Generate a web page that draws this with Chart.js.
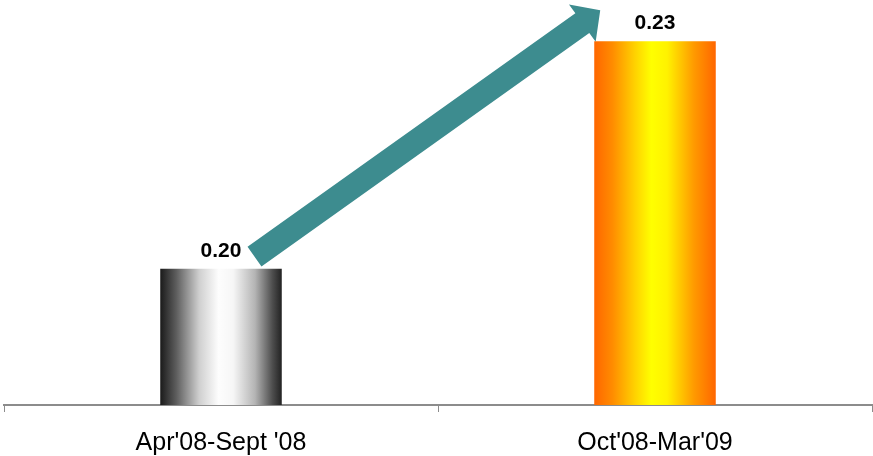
<!DOCTYPE html>
<html>
<head>
<meta charset="utf-8">
<script src="https://cdn.jsdelivr.net/npm/chart.js@4.4.1/dist/chart.umd.min.js"></script>
<style>
  html, body { margin: 0; padding: 0; background: #ffffff; }
  #wrap { width: 873px; height: 456px; position: relative; }
</style>
</head>
<body>
<div id="wrap"><canvas id="c"></canvas></div>
<script>
// Half-year periods and their values
const periods = ["Apr'08-Sept '08", "Oct'08-Mar'09"];
const values = [0.20, 0.23];

// Horizontal gradient stops for each bar (metallic grey, then orange/yellow)
const barStops = [
  [[0, '#1a1a1a'], [0.13, '#5c5c5c'], [0.32, '#cfcfcf'], [0.48, '#fdfdfd'], [0.6, '#f6f6f6'], [0.78, '#b4b4b4'], [0.92, '#505050'], [1, '#222222']],
  [[0, '#ff6600'], [0.15, '#ff8c00'], [0.33, '#ffd000'], [0.47, '#ffff00'], [0.6, '#fff200'], [0.82, '#ff9a00'], [1, '#ff6600']]
];

const CAT_PCT = 0.8;
const BAR_PCT = 0.35;

function barGradient(ctx) {
  const chart = ctx.chart;
  const xs = chart.scales.x;
  const i = ctx.dataIndex;
  if (!xs || !chart.chartArea || i === undefined) return '#cccccc';
  const cx = xs.getPixelForValue(i);
  const half = (xs.width / periods.length) * CAT_PCT * BAR_PCT / 2;
  const g = chart.ctx.createLinearGradient(cx - half, 0, cx + half, 0);
  barStops[i].forEach(s => g.addColorStop(s[0], s[1]));
  return g;
}

// Value labels above each bar
const valueLabels = {
  id: 'valueLabels',
  afterDatasetsDraw(chart) {
    const ctx = chart.ctx;
    const meta = chart.getDatasetMeta(0);
    ctx.save();
    ctx.font = 'bold 21px "Liberation Sans", Arial, sans-serif';
    ctx.fillStyle = '#000000';
    ctx.textAlign = 'center';
    ctx.textBaseline = 'alphabetic';
    meta.data.forEach((bar, i) => {
      ctx.fillText(values[i].toFixed(2), bar.x, bar.y - 12);
    });
    ctx.restore();
  }
};

// Growth arrow from the first bar's label up to the second bar
const growthArrow = {
  id: 'growthArrow',
  afterDatasetsDraw(chart) {
    const meta = chart.getDatasetMeta(0);
    const b0 = meta.data[0], b1 = meta.data[1];
    if (!b0 || !b1) return;
    const tail = { x: b0.x + 33.5, y: b0.y - 12 };
    const tip = { x: b1.x - b1.width / 2 + 6, y: b1.y - 31 };
    const dx = tip.x - tail.x, dy = tip.y - tail.y;
    const len = Math.hypot(dx, dy);
    const ux = dx / len, uy = dy / len;
    const nx = -uy, ny = ux;
    const shaftHalf = 12, headHalf = 23, headLen = 22;
    const bx = tip.x - ux * headLen, by = tip.y - uy * headLen;
    const ctx = chart.ctx;
    ctx.save();
    ctx.fillStyle = '#3d8c8f';
    ctx.beginPath();
    ctx.moveTo(tail.x + nx * shaftHalf, tail.y + ny * shaftHalf);
    ctx.lineTo(bx + nx * shaftHalf, by + ny * shaftHalf);
    ctx.lineTo(bx + nx * headHalf, by + ny * headHalf);
    ctx.lineTo(tip.x, tip.y);
    ctx.lineTo(bx - nx * headHalf, by - ny * headHalf);
    ctx.lineTo(bx - nx * shaftHalf, by - ny * shaftHalf);
    ctx.lineTo(tail.x - nx * shaftHalf, tail.y - ny * shaftHalf);
    ctx.closePath();
    ctx.fill();
    ctx.restore();
  }
};

new Chart(document.getElementById('c'), {
  type: 'bar',
  data: {
    labels: periods,
    datasets: [{
      data: values,
      backgroundColor: barGradient,
      borderWidth: 0,
      categoryPercentage: CAT_PCT,
      barPercentage: BAR_PCT
    }]
  },
  options: {
    responsive: true,
    maintainAspectRatio: false,
    animation: false,
    layout: { padding: { left: 4, right: 1, top: 5, bottom: 0 } },
    plugins: { legend: { display: false }, tooltip: { enabled: false } },
    scales: {
      x: {
        afterFit(scale) { scale.height = 51; },
        grid: {
          display: true,
          offset: true,
          drawOnChartArea: false,
          drawTicks: true,
          tickLength: 7,
          color: '#8c8c8c',
          lineWidth: 1
        },
        border: { display: true, color: '#8c8c8c', width: 2 },
        ticks: {
          color: '#000000',
          padding: 16,
          font: { family: '"Liberation Sans", Arial, sans-serif', size: 25 }
        }
      },
      y: {
        display: false,
        min: 0.182,
        max: 0.2348
      }
    }
  },
  plugins: [growthArrow, valueLabels]
});
</script>
</body>
</html>
